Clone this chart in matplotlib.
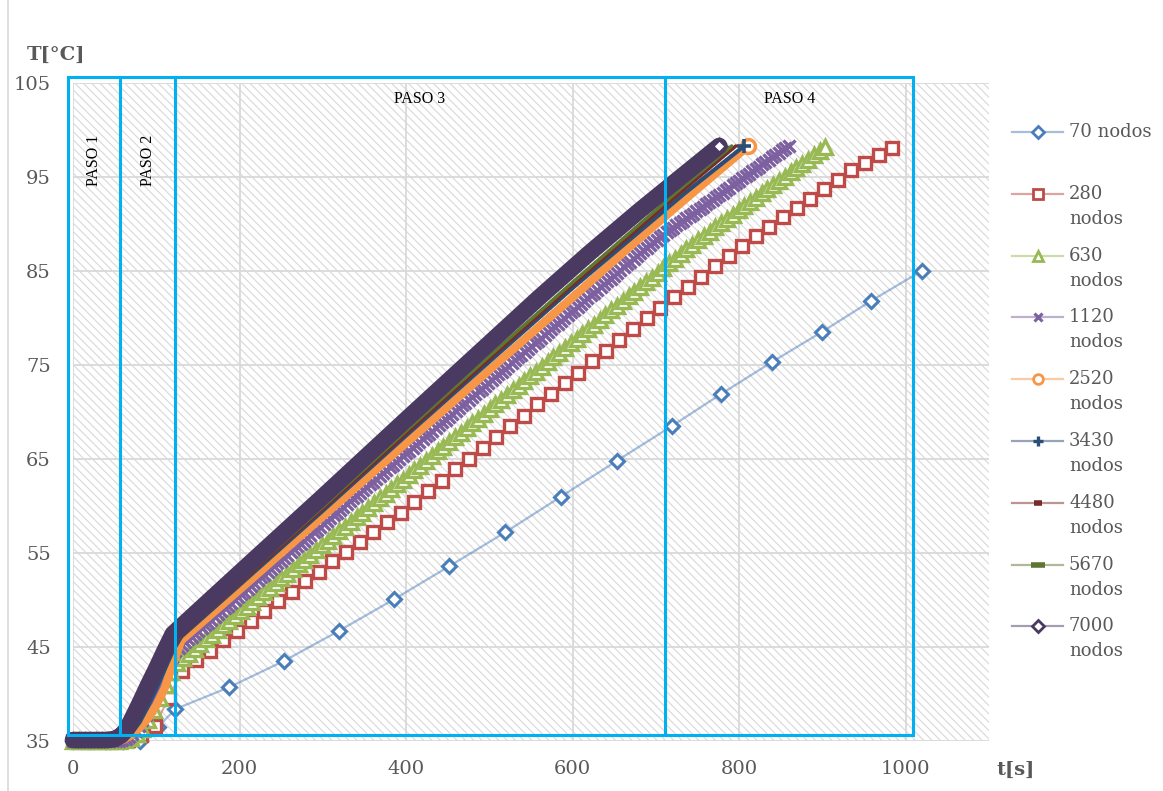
import numpy as np
import matplotlib.pyplot as plt
from matplotlib.lines import Line2D
from matplotlib.patches import Rectangle

plt.rcParams['font.family'] = ['DejaVu Serif']
plt.rcParams['hatch.linewidth'] = 0.8

# --- datos: temperatura [°C] frente a tiempo [s] ---
# 70 nodos (paso de tiempo variable)
t70 = [0, 20, 40, 60, 80, 102, 123, 187, 253, 319, 386, 452, 519, 586, 653, 719, 778, 839, 899, 958, 1019]
T70 = [35.0, 35.0, 35.0, 35.0, 35.0, 36.5, 38.4, 40.7, 43.5, 46.7, 50.1, 53.6, 57.2, 61.0, 64.8,
       68.5, 71.9, 75.3, 78.5, 81.8, 85.0]

# 280 nodos, dt = 16.4 s
dt280 = 16.4
T280 = [35.0, 35.0, 35.0, 35.0, 35.1, 35.6, 36.6, 39.6, 42.5, 43.6,
        44.6, 45.7, 46.7, 47.8, 48.8, 49.9, 50.9, 52.0, 53.0, 54.1,
        55.1, 56.2, 57.2, 58.3, 59.3, 60.4, 61.6, 62.7, 63.9, 65.0,
        66.2, 67.3, 68.5, 69.6, 70.8, 71.9, 73.1, 74.2, 75.4, 76.5,
        77.7, 78.8, 80.0, 81.1, 82.2, 83.3, 84.4, 85.5, 86.6, 87.7,
        88.7, 89.7, 90.7, 91.7, 92.7, 93.7, 94.7, 95.7, 96.5, 97.3,
        98.1]

# 630 nodos, dt = 6.95 s
dt630 = 6.95
T630 = [35.0, 35.0, 35.0, 35.0, 35.0, 35.0, 35.0, 35.0, 35.0,
        35.1, 35.3, 35.7, 36.3, 37.2, 38.3, 39.6, 41.0, 42.3, 43.3,
        43.8, 44.3, 44.8, 45.3, 45.8, 46.3, 46.8, 47.3, 47.8, 48.3,
        48.8, 49.3, 49.8, 50.3, 50.8, 51.3, 51.8, 52.3, 52.8, 53.3,
        53.8, 54.3, 54.8, 55.3, 55.8, 56.3, 56.8, 57.3, 57.8, 58.3,
        58.8, 59.3, 59.8, 60.3, 60.8, 61.3, 61.8, 62.3, 62.8, 63.3,
        63.8, 64.3, 64.8, 65.3, 65.8, 66.3, 66.8, 67.3, 67.8, 68.3,
        68.8, 69.3, 69.8, 70.3, 70.8, 71.3, 71.8, 72.3, 72.8, 73.3,
        73.8, 74.3, 74.8, 75.3, 75.8, 76.3, 76.8, 77.3, 77.8, 78.3,
        78.8, 79.3, 79.8, 80.3, 80.8, 81.3, 81.8, 82.3, 82.8, 83.3,
        83.8, 84.3, 84.8, 85.3, 85.8, 86.3, 86.8, 87.3, 87.8, 88.3,
        88.75, 89.2, 89.65, 90.1, 90.55, 91.0, 91.45, 91.9, 92.35, 92.8,
        93.25, 93.7, 94.15, 94.6, 95.05, 95.5, 95.95, 96.4, 96.85, 97.3,
        97.75, 98.2]

# 1120 nodos, dt = 3.96 s
dt1120 = 3.96
T1120 = [35.0, 35.0, 35.0, 35.0, 35.0, 35.0, 35.0, 35.0, 35.0, 35.0, 35.0, 35.0, 35.0, 35.0, 35.0,
         35.1, 35.2, 35.4, 35.7, 36.1, 36.6, 37.2, 37.8, 38.5, 39.2, 39.9, 40.7, 41.5, 42.3, 43.1, 43.9,
         44.6, 44.9, 45.2, 45.5, 45.8, 46.1, 46.4, 46.7, 47.0, 47.3,
         47.6, 47.9, 48.2, 48.5, 48.8, 49.1, 49.4, 49.7, 50.0, 50.3,
         50.6, 50.9, 51.2, 51.5, 51.8, 52.1, 52.4, 52.7, 53.0, 53.3,
         53.6, 53.9, 54.2, 54.5, 54.8, 55.1, 55.4, 55.7, 56.0, 56.3,
         56.6, 56.9, 57.2, 57.5, 57.8, 58.1, 58.4, 58.7, 59.0, 59.3,
         59.6, 59.9, 60.2, 60.5, 60.8, 61.1, 61.4, 61.7, 62.0, 62.3,
         62.6, 62.9, 63.2, 63.5, 63.8, 64.1, 64.4, 64.7, 65.0, 65.3,
         65.6, 65.9, 66.2, 66.5, 66.8, 67.1, 67.4, 67.7, 68.0, 68.3,
         68.6, 68.9, 69.2, 69.5, 69.8, 70.1, 70.4, 70.7, 71.0, 71.3,
         71.6, 71.9, 72.2, 72.5, 72.8, 73.1, 73.4, 73.7, 74.0, 74.3,
         74.6, 74.9, 75.2, 75.5, 75.8, 76.1, 76.4, 76.7, 77.0, 77.3,
         77.6, 77.9, 78.2, 78.5, 78.8, 79.1, 79.4, 79.7, 80.0, 80.3,
         80.6, 80.9, 81.2, 81.5, 81.8, 82.1, 82.4, 82.7, 83.0, 83.3,
         83.6, 83.9, 84.2, 84.5, 84.8, 85.1, 85.4, 85.7, 86.0, 86.3,
         86.6, 86.9, 87.2, 87.5, 87.8, 88.1,
         88.35, 88.6, 88.85, 89.1, 89.35, 89.6, 89.85, 90.1, 90.35, 90.6,
         90.85, 91.1, 91.35, 91.6, 91.85, 92.1, 92.35, 92.6, 92.85, 93.1,
         93.35, 93.6, 93.85, 94.1, 94.35, 94.6, 94.85, 95.1, 95.35, 95.6,
         95.85, 96.1, 96.35, 96.6, 96.85, 97.1, 97.35, 97.6, 97.85, 98.1,
         98.35]

# mallas finas: los marcadores se solapan y forman una banda continua
t2520 = [0, 50, 60, 70, 80, 90, 100, 110, 120, 130, 200, 300, 400, 512, 600, 674, 740, 811]
T2520 = [35.0, 35.0, 35.1, 35.6, 36.4, 37.4, 38.8, 40.6, 43.2, 45.7, 51.1, 58.9, 66.7, 75.4,
         82.2, 88.0, 93.0, 98.3]
t3430 = [0, 50, 60, 70, 80, 90, 100, 110, 120, 130, 200, 300, 400, 512, 600, 664, 735, 806]
T3430 = [35.0, 35.0, 35.2, 35.8, 37.0, 38.7, 40.6, 42.6, 44.6, 46.1, 51.6, 59.5, 67.5, 76.3,
         83.2, 88.0, 93.3, 98.3]
t4480 = [0, 50, 60, 70, 80, 90, 100, 110, 120, 130, 200, 300, 400, 512, 600, 660, 730, 796]
T4480 = [35.0, 35.0, 35.2, 36.0, 37.4, 39.2, 41.1, 43.0, 44.8, 46.2, 51.8, 59.7, 67.7, 76.6,
         83.5, 88.1, 93.4, 98.3]
t5670 = [0, 50, 60, 70, 80, 90, 100, 110, 120, 130, 200, 300, 400, 512, 600, 656, 725, 791]
T5670 = [35.0, 35.0, 35.3, 36.2, 37.7, 39.5, 41.4, 43.3, 45.0, 46.4, 52.0, 59.9, 68.0, 76.9,
         83.8, 88.1, 93.4, 98.3]
t7000 = [0, 40, 50, 58, 64, 70, 80, 90, 100, 110, 120, 200, 300, 400, 512, 560, 620, 680, 730, 776]
T7000 = [35.1, 35.1, 35.2, 35.6, 36.2, 37.2, 39.0, 40.9, 42.7, 44.6, 46.4, 52.9, 61.0, 69.2,
         78.3, 82.2, 86.9, 91.4, 95.0, 98.3]

etiquetas = ['70 nodos', '280\nnodos', '630\nnodos', '1120\nnodos', '2520\nnodos',
             '3430\nnodos', '4480\nnodos', '5670\nnodos', '7000\nnodos']
colores = ['#4A7EBB', '#BE4B48', '#98B954', '#7D60A0', '#F79646',
           '#2C4D75', '#772C2A', '#5F7530', '#4A3A61']

# limites de los pasos de calculo [s]
pasos = [57, 122, 711]
marco_t = (-6, 1009)
marco_T = (35.6, 105.6)

fig = plt.figure(figsize=(11.63, 7.91), dpi=100)
ax = fig.add_axes([73 / 1163, 50 / 791, 916 / 1163, 658 / 791])
ax.set_xlim(0, 1100)
ax.set_ylim(35, 105)

# fondo rayado
ax.add_patch(Rectangle((0, 0), 1, 1, transform=ax.transAxes, facecolor='white',
                       edgecolor='#D8D8D8', hatch='\\\\\\\\', lw=0, zorder=0))
ax.set_xticks(np.arange(0, 1001, 200))
ax.set_yticks(np.arange(35, 106, 10))
ax.grid(True, color='#D9D9D9', lw=1.3)
ax.set_axisbelow(True)
for s in ax.spines.values():
    s.set_visible(False)
ax.tick_params(length=0, labelsize=14, labelcolor='#595959')
ax.tick_params(axis='y', pad=16)
ax.tick_params(axis='x', pad=14)

def claro(c):
    return c + '80'

# series con marcadores visibles
ax.plot(t70, T70, color=claro(colores[0]), lw=1.6, marker='D', ms=7.5, mfc='white',
        mec=colores[0], mew=2.2, clip_on=False)
ax.plot(np.arange(len(T280)) * dt280, T280, color=claro(colores[1]), lw=1.5, marker='s', ms=9.2,
        mfc='white', mec=colores[1], mew=2.4, clip_on=False)
ax.plot(np.arange(len(T630)) * dt630, T630, color=claro(colores[2]), lw=1.5, marker='^', ms=10.5,
        mfc='white', mec=colores[2], mew=2.4, clip_on=False)
ax.plot(np.arange(len(T1120)) * dt1120, T1120, color=claro(colores[3]), lw=1.5, marker='x', ms=9,
        mec=colores[3], mew=2.4, clip_on=False)

# series densas
ax.plot(t2520, T2520, color=colores[4], lw=6, solid_capstyle='round', marker='o', ms=10,
        mfc='white', mec=colores[4], mew=2.5, markevery=[-1], clip_on=False)
ax.plot(t3430, T3430, color=colores[5], lw=3, solid_capstyle='round', marker='+', ms=10,
        mec=colores[5], mew=2.6, markevery=[-1], clip_on=False)
ax.plot(t4480, T4480, color=colores[6], lw=2.5, solid_capstyle='round', clip_on=False)
ax.plot(t5670, T5670, color=colores[7], lw=2.5, solid_capstyle='round', clip_on=False)
ax.plot(t7000, T7000, color=colores[8], lw=12, solid_capstyle='round', solid_joinstyle='round',
        marker='D', ms=7, mfc='white', mec=colores[8], mew=2.5, markevery=[-1], clip_on=False)

# recuadros de los pasos
cian = '#00B0F0'
ax.add_patch(Rectangle((marco_t[0], marco_T[0]), marco_t[1] - marco_t[0], marco_T[1] - marco_T[0],
                       fill=False, edgecolor=cian, lw=2.2, clip_on=False, zorder=10))
for p in pasos:
    ax.plot([p, p], marco_T, color=cian, lw=2.2, clip_on=False, zorder=10)

bordes = [marco_t[0]] + pasos + [marco_t[1]]
centros = [(a + b) / 2 for a, b in zip(bordes[:-1], bordes[1:])]
for i, c in enumerate(centros):
    if i < 2:
        ax.text(c, 96.8, 'PASO %d' % (i + 1), rotation=90, ha='center', va='center',
                family='Liberation Serif', fontsize=11.5, zorder=11)
    else:
        ax.text(c, 103.3, 'PASO %d' % (i + 1), ha='center', va='center',
                family='Liberation Serif', fontsize=11.5, zorder=11)

fig.text(56 / 1163, 1 - 55 / 791, 'T[°C]', ha='center', va='center', fontsize=14,
         fontweight='bold', color='#595959')
fig.text(1016 / 1163, 1 - 770 / 791, 't[s]', ha='center', va='center', fontsize=14,
         fontweight='bold', color='#595959')

# leyenda
estilos = [dict(marker='D', ms=6, mfc='white', mew=2),
           dict(marker='s', ms=6.5, mfc='white', mew=2),
           dict(marker='^', ms=6.5, mfc='white', mew=2),
           dict(marker='x', ms=6, mew=2.2),
           dict(marker='o', ms=7, mfc='white', mew=2),
           dict(marker='+', ms=7.5, mew=2.4),
           dict(marker='_', ms=6, mew=4),
           dict(marker='_', ms=10, mew=4),
           dict(marker='D', ms=6, mfc='white', mew=2)]
for i, (lab, c, est) in enumerate(zip(etiquetas, colores, estilos)):
    y = 1 - (132 + i * 61.8) / 791
    fig.add_artist(Line2D([1012 / 1163, 1063 / 1163], [y, y], transform=fig.transFigure,
                          color=claro(c), lw=1.6))
    fig.add_artist(Line2D([1037.5 / 1163], [y], transform=fig.transFigure, color=c,
                          mec=c, **est))
    lineas = lab.split('\n')
    for j, l in enumerate(lineas):
        fig.text(1069 / 1163, y - j * 25 / 791, l, va='center', ha='left', fontsize=13,
                 color='#595959')

fig.add_artist(Line2D([8 / 1163, 8 / 1163], [0, 1], transform=fig.transFigure,
                      color='#D9D9D9', lw=1.2))

fig.savefig('out.png', dpi=100)
